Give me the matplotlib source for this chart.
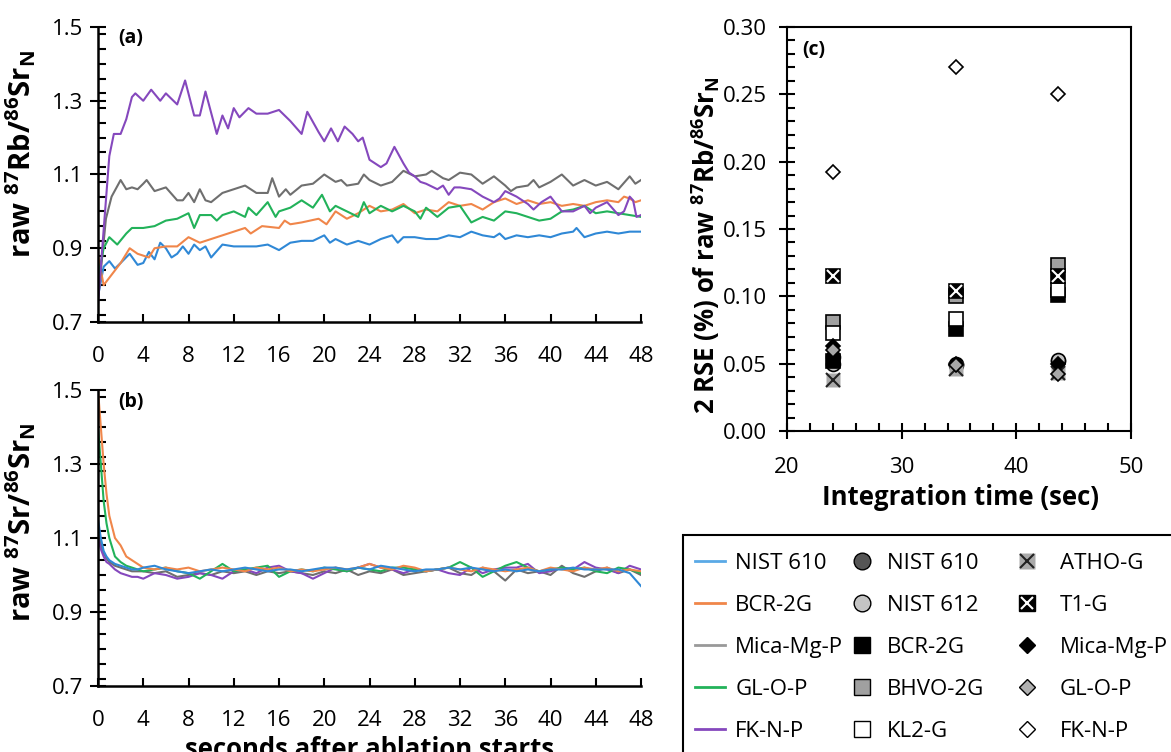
import matplotlib
matplotlib.use("Agg")
import matplotlib.pyplot as plt
from matplotlib.lines import Line2D
from matplotlib.patches import Rectangle
from matplotlib.ticker import MultipleLocator

plt.rcParams["font.family"] = ["Open Sans", "DejaVu Sans"]
plt.rcParams["mathtext.default"] = "regular"

# ---- panel (a): raw 87Rb/86Sr_N vs time ----
t_fknp_a = [0, 0.5, 1, 1.4, 2, 2.5, 3, 3.3, 4, 4.7, 5.5, 6, 7, 7.7, 8.5, 9, 9.5, 10.5, 11, 11.5,
            12, 12.5, 13.3, 14, 15, 16, 17, 18, 18.5, 19.5, 20, 20.6, 21.2, 21.8, 22.5, 23, 23.4,
            24, 24.5, 25, 25.5, 26.2, 27, 27.5, 28, 28.5, 29, 30, 30.5, 31, 31.5, 32, 33, 34, 35,
            35.5, 36, 37, 38, 38.5, 39.2, 40, 40.5, 41, 42, 43, 43.5, 44, 45, 46, 46.5, 47, 47.3,
            47.6, 48]
fknp_a = [0.75, 0.95, 1.15, 1.21, 1.21, 1.25, 1.31, 1.32, 1.30, 1.33, 1.30, 1.32, 1.29, 1.355,
          1.26, 1.26, 1.325, 1.21, 1.26, 1.225, 1.28, 1.255, 1.28, 1.265, 1.265, 1.275, 1.245,
          1.21, 1.27, 1.215, 1.19, 1.225, 1.19, 1.23, 1.21, 1.19, 1.20, 1.14, 1.13, 1.12, 1.13,
          1.175, 1.13, 1.105, 1.095, 1.08, 1.075, 1.06, 1.07, 1.045, 1.065, 1.065, 1.06, 1.04,
          1.025, 1.035, 1.055, 1.04, 1.02, 1.005, 1.025, 1.04, 1.02, 1.00, 1.00, 1.015, 0.995,
          1.01, 1.025, 0.99, 1.00, 1.04, 1.03, 0.985, 0.99]

t_mica_a = [0, 0.7, 1.2, 2, 2.5, 3, 3.5, 4, 4.3, 5, 6, 7, 7.5, 8, 8.5, 9, 9.5, 10, 11, 12, 13, 14,
            15, 15.4, 16, 16.6, 17, 18, 19, 20, 21, 21.5, 22, 23, 23.5, 24, 25, 26, 27, 28, 29,
            29.5, 30.5, 31, 32, 33, 34, 35, 36, 36.5, 37, 38, 38.5, 39, 40, 41, 42, 43, 44, 45,
            46, 47, 47.5, 48]
mica_a = [0.76, 0.98, 1.04, 1.085, 1.06, 1.065, 1.06, 1.075, 1.085, 1.055, 1.065, 1.03, 1.03,
          1.05, 1.025, 1.06, 1.03, 1.025, 1.05, 1.06, 1.07, 1.05, 1.05, 1.09, 1.04, 1.06, 1.045,
          1.07, 1.075, 1.10, 1.08, 1.085, 1.07, 1.075, 1.10, 1.085, 1.07, 1.08, 1.11, 1.095,
          1.10, 1.11, 1.09, 1.085, 1.105, 1.10, 1.075, 1.095, 1.07, 1.055, 1.065, 1.07, 1.085,
          1.065, 1.08, 1.10, 1.07, 1.085, 1.07, 1.08, 1.06, 1.095, 1.075, 1.085]

t_glop_a = [0, 0.5, 1, 1.7, 2.5, 3, 4, 5, 6, 7, 8, 8.5, 9, 10, 10.5, 11, 12, 13, 13.3, 14, 15,
            15.7, 16, 17, 18, 19, 19.8, 20.5, 21, 22, 23, 23.5, 24, 25, 26, 27, 28, 28.5, 29, 30,
            31, 32, 33, 34, 35, 36, 37, 38, 39, 40, 41, 42, 43, 44, 45, 46, 47, 48]
glop_a = [0.82, 0.90, 0.93, 0.91, 0.94, 0.955, 0.955, 0.96, 0.975, 0.98, 0.995, 0.955, 0.99,
          0.99, 0.975, 0.99, 1.00, 0.985, 1.01, 0.99, 1.025, 0.985, 1.00, 1.01, 1.03, 1.01,
          1.045, 1.00, 1.015, 1.00, 0.985, 1.025, 0.995, 1.015, 1.00, 1.015, 1.00, 0.98, 1.01,
          0.985, 1.01, 1.015, 0.97, 0.985, 0.975, 1.00, 0.995, 0.985, 0.975, 0.98, 1.00, 1.005,
          1.015, 0.995, 1.00, 0.995, 0.99, 0.985]

t_bcr_a = [0, 0.5, 1, 2, 2.8, 3.5, 4.5, 5, 6, 7, 8, 9, 10, 11, 12, 13, 13.5, 14.5, 16, 16.5, 17,
           18, 19.5, 20.2, 21, 21.5, 22, 23, 24, 25, 26, 27, 28, 29, 30, 31, 32, 33, 34, 35, 36,
           37, 38, 39, 40, 41, 42, 43, 44, 45, 46, 46.5, 47, 47.5, 48]
bcr_a = [0.88, 0.80, 0.82, 0.86, 0.90, 0.885, 0.875, 0.90, 0.905, 0.905, 0.93, 0.915, 0.925,
         0.935, 0.945, 0.955, 0.94, 0.96, 0.955, 0.975, 0.965, 0.97, 0.98, 0.965, 1.00, 0.99,
         0.98, 0.995, 1.015, 1.00, 1.005, 1.02, 0.995, 1.005, 1.00, 1.025, 1.015, 1.02, 1.005,
         1.025, 1.035, 1.02, 1.03, 1.02, 1.025, 1.015, 1.02, 1.015, 1.025, 1.03, 1.025, 1.04,
         1.035, 1.025, 1.03]

t_nist_a = [0, 0.5, 1, 1.5, 2, 2.8, 3.5, 4, 4.5, 5, 5.5, 6, 6.5, 7, 7.5, 8, 8.5, 9, 9.5, 10, 11,
            12, 13, 14, 15, 16, 17, 18, 19, 20, 20.5, 21, 22, 23, 24, 25, 26, 26.5, 27, 28, 29,
            30, 31, 32, 33, 34, 35, 35.5, 36, 37, 38, 39, 40, 41, 42, 42.3, 43, 44, 45, 46, 47, 48]
nist_a = [0.77, 0.85, 0.865, 0.845, 0.86, 0.885, 0.855, 0.86, 0.89, 0.87, 0.915, 0.90, 0.875,
          0.885, 0.905, 0.885, 0.91, 0.895, 0.905, 0.875, 0.91, 0.905, 0.905, 0.905, 0.91,
          0.895, 0.915, 0.92, 0.92, 0.935, 0.915, 0.925, 0.91, 0.92, 0.91, 0.925, 0.935, 0.915,
          0.93, 0.93, 0.925, 0.925, 0.935, 0.93, 0.945, 0.935, 0.93, 0.94, 0.925, 0.935, 0.93,
          0.935, 0.93, 0.94, 0.945, 0.955, 0.93, 0.94, 0.945, 0.94, 0.945, 0.945]

# ---- panel (b): raw 87Sr/86Sr_N vs time ----
t_b = [0, 0.25, 0.5, 0.75, 1, 1.5, 2, 2.5, 3, 3.5] + list(range(4, 49))
bcr_b = [1.50, 1.40, 1.30, 1.22, 1.16, 1.10, 1.08, 1.05, 1.04, 1.03,
         1.02, 1.015, 1.02, 1.015, 1.02, 1.01, 1.015, 1.02, 1.015, 1.01, 1.02, 1.015, 1.02,
         1.01, 1.015, 1.01, 1.015, 1.02, 1.015, 1.02, 1.03, 1.02, 1.015, 1.025, 1.02, 1.01,
         1.015, 1.02, 1.015, 1.01, 1.02, 1.015, 1.01, 1.015, 1.02, 1.01, 1.02, 1.015, 1.01,
         1.02, 1.015, 1.02, 1.01, 1.015, 1.01]
glop_b = [1.40, 1.30, 1.20, 1.14, 1.10, 1.05, 1.035, 1.025, 1.02, 1.015,
          1.01, 1.015, 1.02, 1.01, 1.005, 0.99, 1.01, 1.03, 1.01, 1.015, 1.02, 1.025, 0.995,
          1.01, 1.015, 1.01, 1.02, 1.015, 1.01, 1.02, 1.015, 1.01, 1.02, 1.02, 1.015, 1.01,
          1.015, 1.02, 1.035, 1.02, 0.995, 1.01, 1.025, 1.035, 1.02, 1.01, 1.015, 1.02, 1.015,
          1.02, 1.01, 1.005, 1.02, 1.015, 1.005]
nist_b = [1.15, 1.10, 1.065, 1.05, 1.04, 1.03, 1.025, 1.02, 1.015, 1.015,
          1.02, 1.025, 1.015, 1.01, 1.005, 1.01, 1.015, 1.01, 1.015, 1.02, 1.015, 1.01, 1.015,
          1.015, 1.01, 1.015, 1.02, 1.02, 1.015, 1.02, 1.015, 1.025, 1.02, 1.015, 1.01, 1.015,
          1.015, 1.02, 1.015, 1.02, 1.015, 1.01, 1.015, 1.01, 1.015, 1.01, 1.015, 1.015, 1.02,
          1.015, 1.015, 1.015, 1.015, 1.005, 0.97]
mica_b = [1.12, 1.08, 1.06, 1.045, 1.035, 1.025, 1.02, 1.015, 1.01, 1.01,
          1.01, 1.005, 1.01, 0.995, 1.00, 1.005, 1.00, 1.01, 1.005, 1.01, 1.00, 1.01, 1.005,
          1.01, 1.005, 1.00, 1.01, 1.005, 1.015, 1.00, 1.01, 1.005, 1.015, 1.00, 1.005, 1.01,
          1.015, 1.02, 1.005, 1.00, 1.02, 1.01, 0.985, 1.015, 1.005, 1.01, 1.00, 1.025, 1.005,
          0.995, 1.01, 1.02, 1.005, 1.015, 1.00]
fknp_b = [1.10, 1.07, 1.05, 1.035, 1.03, 1.015, 1.005, 1.00, 0.995, 0.995,
          0.99, 1.005, 1.00, 0.99, 0.995, 1.005, 1.00, 0.99, 1.01, 1.015, 1.005, 1.02, 1.025,
          1.01, 1.005, 0.99, 1.005, 1.02, 1.01, 1.02, 1.03, 1.02, 1.015, 1.005, 1.015, 1.01,
          1.015, 1.005, 1.00, 1.02, 1.005, 1.015, 1.02, 1.02, 1.03, 1.005, 1.01, 1.02, 1.015,
          1.035, 1.02, 1.015, 1.005, 1.025, 1.015]

# ---- panel (c): 2 RSE vs integration time ----
int_time = [24.0, 34.7, 43.6]
nist610_c = [0.055, 0.050, 0.052]
nist612_c = [0.050, 0.049, 0.053]
bcr2g_c = [0.052, 0.076, 0.101]
bhvo2g_c = [0.081, 0.100, 0.123]
kl2g_c = [0.073, 0.083, 0.105]
athog_c = [0.038, 0.046, 0.043]
t1g_c = [0.115, 0.104, 0.115]
mica_c = [0.063, 0.050, 0.050]
glop_c = [0.060, 0.049, 0.042]
fknp_c = [0.192, 0.270, 0.250]

c_blue = "#2f88d6"
c_orange = "#f0864a"
c_gray = "#6f6f6f"
c_green = "#22b25a"
c_purple = "#8548bd"

W, H = 1171, 752
fig = plt.figure(figsize=(W / 100, H / 100), dpi=100)
LBL = 18.5
TCK = 16


def px_axes(left, top, right, bottom):
    return fig.add_axes([left / W, 1 - bottom / H, (right - left) / W, (bottom - top) / H])


def style_time_axis(ax):
    for s in ["top", "right"]:
        ax.spines[s].set_visible(False)
    for s in ["left", "bottom"]:
        ax.spines[s].set_linewidth(1.8)
    ax.set_xlim(0, 48)
    ax.set_ylim(0.7, 1.5)
    ax.xaxis.set_major_locator(MultipleLocator(4))
    ax.yaxis.set_minor_locator(MultipleLocator(0.04))
    ax.tick_params(axis="y", which="major", direction="inout", length=11, width=1.5,
                   labelsize=TCK, pad=5)
    ax.tick_params(axis="y", which="minor", direction="in", length=6, width=1.5)
    ax.tick_params(axis="x", which="major", direction="in", length=6, width=1.5,
                   labelsize=TCK, pad=17)
    ax.set_yticks([0.7, 0.9, 1.1, 1.3, 1.5])
    ax.set_yticklabels(["0.7", "0.9", "1.1", "1.3", "1.5"])


# panel (a)
ax_a = px_axes(98, 27, 641, 322)
lw = 1.5
ax_a.plot(t_nist_a, nist_a, color=c_blue, lw=lw)
ax_a.plot(t_bcr_a, bcr_a, color=c_orange, lw=lw)
ax_a.plot(t_mica_a, mica_a, color=c_gray, lw=lw)
ax_a.plot(t_glop_a, glop_a, color=c_green, lw=lw)
ax_a.plot(t_fknp_a, fknp_a, color=c_purple, lw=lw)
style_time_axis(ax_a)
ax_a.set_ylabel(r"raw $^{87}$Rb/$^{86}$Sr$_{N}$", fontsize=21, fontweight="bold")
ax_a.yaxis.set_label_coords(-0.11, 0.57)
ax_a.text(0.037, 0.963, "(a)", transform=ax_a.transAxes, fontsize=14, fontweight="bold",
          va="center", ha="left")

# panel (b)
ax_b = px_axes(98, 390, 641, 686)
ax_b.plot(t_b, mica_b, color=c_gray, lw=lw)
ax_b.plot(t_b, fknp_b, color=c_purple, lw=lw)
ax_b.plot(t_b, glop_b, color=c_green, lw=lw)
ax_b.plot(t_b, bcr_b, color=c_orange, lw=lw)
ax_b.plot(t_b, nist_b, color=c_blue, lw=lw)
style_time_axis(ax_b)
ax_b.set_ylabel(r"raw $^{87}$Sr/$^{86}$Sr$_{N}$", fontsize=21, fontweight="bold")
ax_b.yaxis.set_label_coords(-0.11, 0.554)
ax_b.set_xlabel("seconds after ablation starts", fontsize=LBL, fontweight="bold")
ax_b.xaxis.set_label_coords(0.5, -0.17)
ax_b.text(0.037, 0.959, "(b)", transform=ax_b.transAxes, fontsize=14, fontweight="bold",
          va="center", ha="left")

# panel (c)
ax_c = px_axes(787, 27, 1131, 431)
ms = 10
ax_c.plot(int_time, nist610_c, "o", ms=ms, mfc="#555555", mec="black", mew=1.2)
ax_c.plot(int_time, nist612_c, "o", ms=ms, mfc="#c4c4c4", mec="black", mew=1.2)
ax_c.plot(int_time, bcr2g_c, "s", ms=ms, mfc="black", mec="black", mew=1.2)
ax_c.plot(int_time, bhvo2g_c, "s", ms=ms, mfc="#a0a0a0", mec="black", mew=1.2)
ax_c.plot(int_time, kl2g_c, "s", ms=ms, mfc="white", mec="black", mew=1.2)
ax_c.plot(int_time, athog_c, "s", ms=ms, mfc="#aaaaaa", mec="none")
ax_c.plot(int_time, athog_c, "x", ms=ms, mec="#222222", mew=1.5)
ax_c.plot(int_time, t1g_c, "s", ms=ms, mfc="black", mec="black", mew=1.2)
ax_c.plot(int_time, t1g_c, "x", ms=ms - 1, mec="white", mew=1.5)
ax_c.plot(int_time, mica_c, "D", ms=7, mfc="black", mec="black", mew=1.2)
ax_c.plot(int_time, glop_c, "D", ms=7, mfc="#a8a8a8", mec="black", mew=1.2)
ax_c.plot(int_time, fknp_c, "D", ms=7, mfc="white", mec="black", mew=1.2)
ax_c.set_xlim(20, 50)
ax_c.set_ylim(0, 0.30)
ax_c.xaxis.set_major_locator(MultipleLocator(10))
ax_c.xaxis.set_minor_locator(MultipleLocator(2))
ax_c.yaxis.set_minor_locator(MultipleLocator(0.01))
ax_c.set_yticks([0, 0.05, 0.10, 0.15, 0.20, 0.25, 0.30])
ax_c.set_yticklabels(["0.00", "0.05", "0.10", "0.15", "0.20", "0.25", "0.30"])
for s in ax_c.spines.values():
    s.set_linewidth(1.5)
ax_c.tick_params(which="major", direction="inout", length=11, width=1.5, labelsize=TCK)
ax_c.tick_params(which="minor", direction="in", length=6, width=1.5)
ax_c.tick_params(axis="x", which="major", pad=13)
ax_c.tick_params(axis="y", which="major", pad=9)
ax_c.set_ylabel(r"2 RSE (%) of raw $^{87}$Rb/$^{86}$Sr$_{N}$", fontsize=LBL,
                fontweight="bold")
ax_c.yaxis.set_label_coords(-0.189, 0.46)
ax_c.set_xlabel("Integration time (sec)", fontsize=LBL, fontweight="bold")
ax_c.xaxis.set_label_coords(0.503, -0.13)
ax_c.text(0.044, 0.943, "(c)", transform=ax_c.transAxes, fontsize=14, fontweight="bold",
          va="center", ha="left")

# legend: three columns inside one frame that runs off the figure edge
fig.patches.append(Rectangle((683 / W, -0.05), 0.5, 1 - 535 / H + 0.05,
                             transform=fig.transFigure, fill=False, ec="black", lw=1.5))

col1 = [Line2D([], [], color=c, lw=2) for c in
        ["#5aa9e6", c_orange, "#999999", c_green, c_purple]]
lab1 = ["NIST 610", "BCR-2G", "Mica-Mg-P", "GL-O-P", "FK-N-P"]
lms = 12
col2 = [Line2D([], [], ls="", marker="o", ms=lms, mfc="#555555", mec="black"),
        Line2D([], [], ls="", marker="o", ms=lms, mfc="#c4c4c4", mec="black"),
        Line2D([], [], ls="", marker="s", ms=lms - 1, mfc="black", mec="black"),
        Line2D([], [], ls="", marker="s", ms=lms - 1, mfc="#a0a0a0", mec="black"),
        Line2D([], [], ls="", marker="s", ms=lms - 1, mfc="white", mec="black")]
lab2 = ["NIST 610", "NIST 612", "BCR-2G", "BHVO-2G", "KL2-G"]
col3 = [(Line2D([], [], ls="", marker="s", ms=lms - 1, mfc="#aaaaaa", mec="none"),
         Line2D([], [], ls="", marker="x", ms=lms - 2, mec="#222222", mew=1.5)),
        (Line2D([], [], ls="", marker="s", ms=lms - 1, mfc="black", mec="black"),
         Line2D([], [], ls="", marker="x", ms=lms - 3, mec="white", mew=1.5)),
        Line2D([], [], ls="", marker="D", ms=8, mfc="black", mec="black"),
        Line2D([], [], ls="", marker="D", ms=8, mfc="#b0b0b0", mec="black"),
        Line2D([], [], ls="", marker="D", ms=8, mfc="white", mec="black")]
lab3 = ["ATHO-G", "T1-G", "Mica-Mg-P", "GL-O-P", "FK-N-P"]

for handles, labels, x0, pad in [(col1, lab1, 695, 0.45), (col2, lab2, 847, 0.45),
                                 (col3, lab3, 1012, 0.8)]:
    fig.legend(handles, labels, loc="upper left", bbox_to_anchor=(x0 / W, 1 - 553 / H),
               frameon=False, fontsize=16, borderpad=0, borderaxespad=0,
               handlelength=1.36, handletextpad=pad, labelspacing=0.94)

fig.savefig("out.png", dpi=100)
